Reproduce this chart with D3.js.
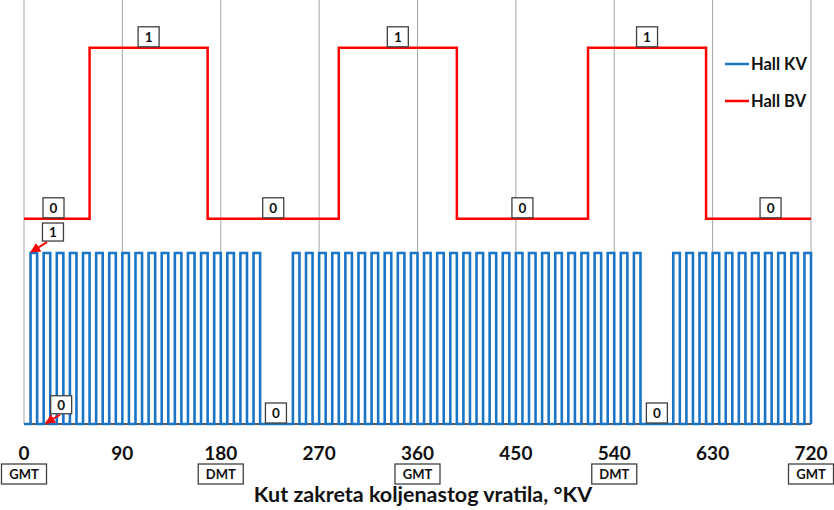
<!DOCTYPE html>
<html>
<head>
<meta charset="utf-8">
<script src="https://cdn.jsdelivr.net/npm/d3@7"></script>
<style>
  html, body { margin: 0; padding: 0; background: #fff; }
  svg { display: block; font-family: Lato, "Open Sans", "Liberation Sans", sans-serif; }
</style>
</head>
<body>
<svg id="chart" width="834" height="510"></svg>
<script>
// ---------- DATA ----------
const xTicks = [0, 90, 180, 270, 360, 450, 540, 630, 720];
const deadCentres = [
  { x: 0, t: "GMT" }, { x: 180, t: "DMT" }, { x: 360, t: "GMT" },
  { x: 540, t: "DMT" }, { x: 720, t: "GMT" }
];
// Hall KV (crank) pulses: [rising edge, falling edge] in °KV
const kvPulses = [
  [6,12],[18,24],[30,36],[42,48],[54,60],[66,72],[78,84],[90,96],[102,108],[114,120],
  [126,132],[138,144],[150,156],[162,168],[174,180],[186,192],[198,204],[210,216],
  [246,252],[258,264],[270,276],[282,288],[294,300],[306,312],[318,324],[330,336],
  [342,348],[354,360],[366,372],[378,384],[390,396],[402,408],[414,420],[426,432],
  [438,444],[450,456],[462,468],[474,480],[486,492],[498,504],[510,516],[522,528],
  [534,540],[546,552],[558,564],
  [594,600],[606,612],[618,624],[630,636],[642,648],[654,660],[666,672],[678,684],
  [690,696],[702,708],[714,720]
];
const kvLow = 0, kvHigh = 1;
// Hall BV (cam) step signal: angle where a level starts, and the level
const bvAngles = [0, 60, 168, 288, 396, 516, 624, 720];
const bvStates = [0, 1, 0, 1, 0, 1, 0, 0];
const bvLow = 1.2, bvHigh = 2.2;
// state boxes on the signals
const bvLabels = [
  { x: 27, t: "0" }, { x: 114, t: "1" }, { x: 228, t: "0" }, { x: 342, t: "1" },
  { x: 456, t: "0" }, { x: 570, t: "1" }, { x: 683, t: "0" }
];
const kvGapLabels = [{ x: 230.5, t: "0" }, { x: 579, t: "0" }];
const kvArrowLabels = [
  { x: 26.5, v: 1.07, t: "1", fromX: 21, tipX: 6.5, tipV: 1 },
  { x: 34, v: 0.06, t: "0", fromX: 33, tipX: 20, tipV: 0 }
];
const legendItems = [
  { name: "Hall KV", color: "#1b75c6" },
  { name: "Hall BV", color: "#ff0000" }
];
const xTitle = "Kut zakreta koljenastog vratila, °KV";

// ---------- CHART ----------
const svg = d3.select("#chart");
const x = d3.scaleLinear().domain([0, 720]).range([24, 811]);
const y = d3.scaleLinear().domain([0, 2.5]).range([424, -3.5]);
const kvColor = legendItems[0].color, bvColor = legendItems[1].color;

// vertical grid
svg.append("g").selectAll("line").data(xTicks).join("line")
  .attr("x1", d => x(d)).attr("x2", d => x(d))
  .attr("y1", 0).attr("y2", y(0))
  .attr("stroke", "#a6a6a6").attr("stroke-width", 1);

// x axis line
svg.append("line").attr("x1", x(0)).attr("x2", x(720)).attr("y1", y(0)).attr("y2", y(0))
  .attr("stroke", "#222").attr("stroke-width", 1.5);

// Hall BV
const bvPts = bvAngles.map((a, i) => [a, bvStates[i] ? bvHigh : bvLow]);
svg.append("path")
  .attr("d", d3.line().x(d => x(d[0])).y(d => y(d[1])).curve(d3.curveStepAfter)(bvPts))
  .attr("fill", "none").attr("stroke", bvColor).attr("stroke-width", 2.5);

// Hall KV
const kvPts = [[0, kvLow]];
kvPulses.forEach(([a, b]) => { kvPts.push([a, kvLow], [a, kvHigh], [b, kvHigh], [b, kvLow]); });
kvPts.push([720, kvLow]);
svg.append("path")
  .attr("d", d3.line().x(d => x(d[0])).y(d => y(d[1]))(kvPts))
  .attr("fill", "none").attr("stroke", kvColor).attr("stroke-width", 2.6)
  .attr("stroke-linejoin", "miter");

// boxes helper
function box(g, cx, bottom, w, h, text, fs) {
  g.append("rect").attr("x", cx - w / 2).attr("y", bottom - h).attr("width", w).attr("height", h)
    .attr("fill", "#fff").attr("stroke", "#404040").attr("stroke-width", 1.3);
  g.append("text").attr("x", cx).attr("y", bottom - h / 2).attr("dy", "0.36em")
    .attr("text-anchor", "middle").attr("font-weight", "bold").attr("font-size", fs)
    .attr("fill", "#111").text(text);
}
const lab = svg.append("g");
bvLabels.forEach(d => {
  const lvl = bvStates[d3.bisectRight(bvAngles, d.x) - 1] ? bvHigh : bvLow;
  box(lab, x(d.x), y(lvl) - 1, 21, 20, d.t, 13.5);
});
kvGapLabels.forEach(d => box(lab, x(d.x), y(kvLow) - 1, 21, 20, d.t, 13.5));

// arrows
svg.append("defs").append("marker").attr("id", "ah").attr("viewBox", "0 0 10 10")
  .attr("refX", 9).attr("refY", 5).attr("markerWidth", 5).attr("markerHeight", 5)
  .attr("orient", "auto").append("path").attr("d", "M0,0L10,5L0,10z").attr("fill", "#ff0000");
kvArrowLabels.forEach(d => {
  svg.append("line").attr("x1", x(d.fromX)).attr("y1", y(d.v) + 1)
    .attr("x2", x(d.tipX)).attr("y2", y(d.tipV) - 1)
    .attr("stroke", "#ff0000").attr("stroke-width", 2).attr("marker-end", "url(#ah)");
  box(lab, x(d.x), y(d.v), 21, 18, d.t, 13.5);
});

// tick labels
svg.append("g").selectAll("text").data(xTicks).join("text")
  .attr("x", d => x(d)).attr("y", 460).attr("text-anchor", "middle")
  .attr("font-weight", "bold").attr("font-size", 19).attr("fill", "#111").text(d => d);

// GMT / DMT boxes
const dc = svg.append("g");
deadCentres.forEach(d => box(dc, x(d.x), 484, 45, 20, d.t, 13));

// axis title
svg.append("text").attr("x", 423).attr("y", 502).attr("text-anchor", "middle")
  .attr("font-weight", "bold").attr("font-size", 21.5).attr("fill", "#111").text(xTitle);

// legend
const lg = svg.append("g");
legendItems.forEach((d, i) => {
  const ly = 64 + i * 37;
  lg.append("line").attr("x1", 725).attr("x2", 749).attr("y1", ly).attr("y2", ly)
    .attr("stroke", d.color).attr("stroke-width", 2.5);
  lg.append("text").attr("x", 751).attr("y", ly).attr("dy", "0.36em")
    .attr("font-weight", "bold").attr("font-size", 16.5).attr("fill", "#111").text(d.name);
});
</script>
</body>
</html>
